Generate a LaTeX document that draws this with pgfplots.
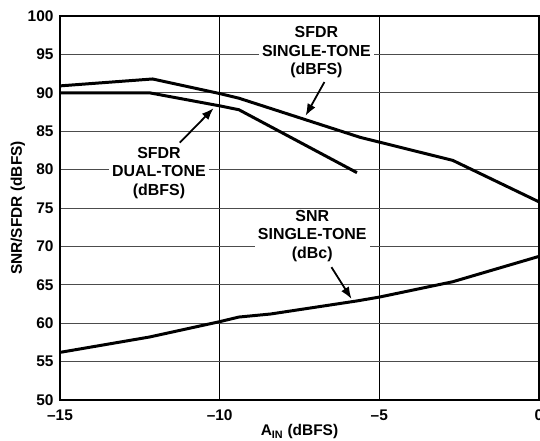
\documentclass[border=0pt]{standalone}
\usepackage{fontspec}
\setmainfont{Liberation Sans}
\usepackage{pgfplots}
\pgfplotsset{compat=1.18}
\usetikzlibrary{arrows.meta}
\newcommand{\tf}{\fontsize{15.5}{15.5}\selectfont\bfseries}
\newcommand{\af}{\fontsize{16}{18.5}\selectfont\bfseries}
\begin{document}
\begin{tikzpicture}
\begin{axis}[
  scale only axis, width=479bp, height=384bp,
  xmin=-15, xmax=0, ymin=50, ymax=100,
  xtick={-15,-10,-5,0}, xticklabels={--15,--10,--5,0},
  ytick={50,55,...,100},
  /pgf/number format/assume math mode=true,
  major tick length=0pt,
  ticklabel style={font=\tf},
  xticklabel style={yshift=-6bp},
  yticklabel style={xshift=-3bp},
  xmajorgrids, ymajorgrids,
  x grid style={black, line width=0.9pt},
  y grid style={black!70, line width=1pt},
  axis line style={line width=1.6pt},
  every axis x label/.style={at={(rel axis cs:0.5,0)}, yshift=-32bp, anchor=center, font=\tf},
  every axis y label/.style={at={(rel axis cs:0,0.5)}, xshift=-42bp, anchor=center, rotate=90, font=\tf},
  xlabel={A\textsubscript{IN} (dBFS)},
  ylabel={SNR/SFDR (dBFS)},
]
% SFDR single-tone
\addplot[black, line width=3pt] coordinates {
 (-15,90.9) (-12.1,91.8) (-10,89.9) (-9.4,89.3) (-5.6,84.2) (-2.7,81.2) (0,75.8)};
% SFDR dual-tone
\addplot[black, line width=3pt] coordinates {
 (-15,90.0) (-12.2,90.0) (-10,88.3) (-9.4,87.8) (-5.7,79.6)};
% SNR single-tone
\addplot[black, line width=3pt] coordinates {
 (-15,56.2) (-12.2,58.2) (-10,60.2) (-9.4,60.8) (-8.4,61.2) (-5.7,62.9) (-5,63.4) (-2.7,65.4) (0,68.7)};

\node[fill=white, align=center, font=\af, inner xsep=3bp, inner ysep=1bp] at (axis cs:-11.9,79.6) {SFDR\\DUAL-TONE\\(dBFS)};
\node[fill=white, align=center, font=\af, inner xsep=3bp, inner ysep=1bp] at (axis cs:-6.97,95.3) {SFDR\\SINGLE-TONE\\(dBFS)};
\node[fill=white, align=center, font=\af, inner xsep=3bp, inner ysep=1bp] at (axis cs:-7.1,71.35) {SNR\\SINGLE-TONE\\(dBc)};

\draw[-{Latex[length=12bp,width=9bp]}, line width=1.8pt] (axis cs:-11.25,83.5) -- (axis cs:-10.19,88.0);
\draw[-{Latex[length=12bp,width=9bp]}, line width=1.8pt] (axis cs:-6.72,91.4) -- (axis cs:-7.31,87.0);
\draw[-{Latex[length=12bp,width=9bp]}, line width=1.8pt] (axis cs:-6.5,67.3) -- (axis cs:-5.87,63.15);
\end{axis}
\pgfresetboundingbox
\path[use as bounding box] ([shift={(-60bp,-41bp)}]current axis.south west) rectangle ([shift={(1bp,16bp)}]current axis.north east);
\end{tikzpicture}
\end{document}
